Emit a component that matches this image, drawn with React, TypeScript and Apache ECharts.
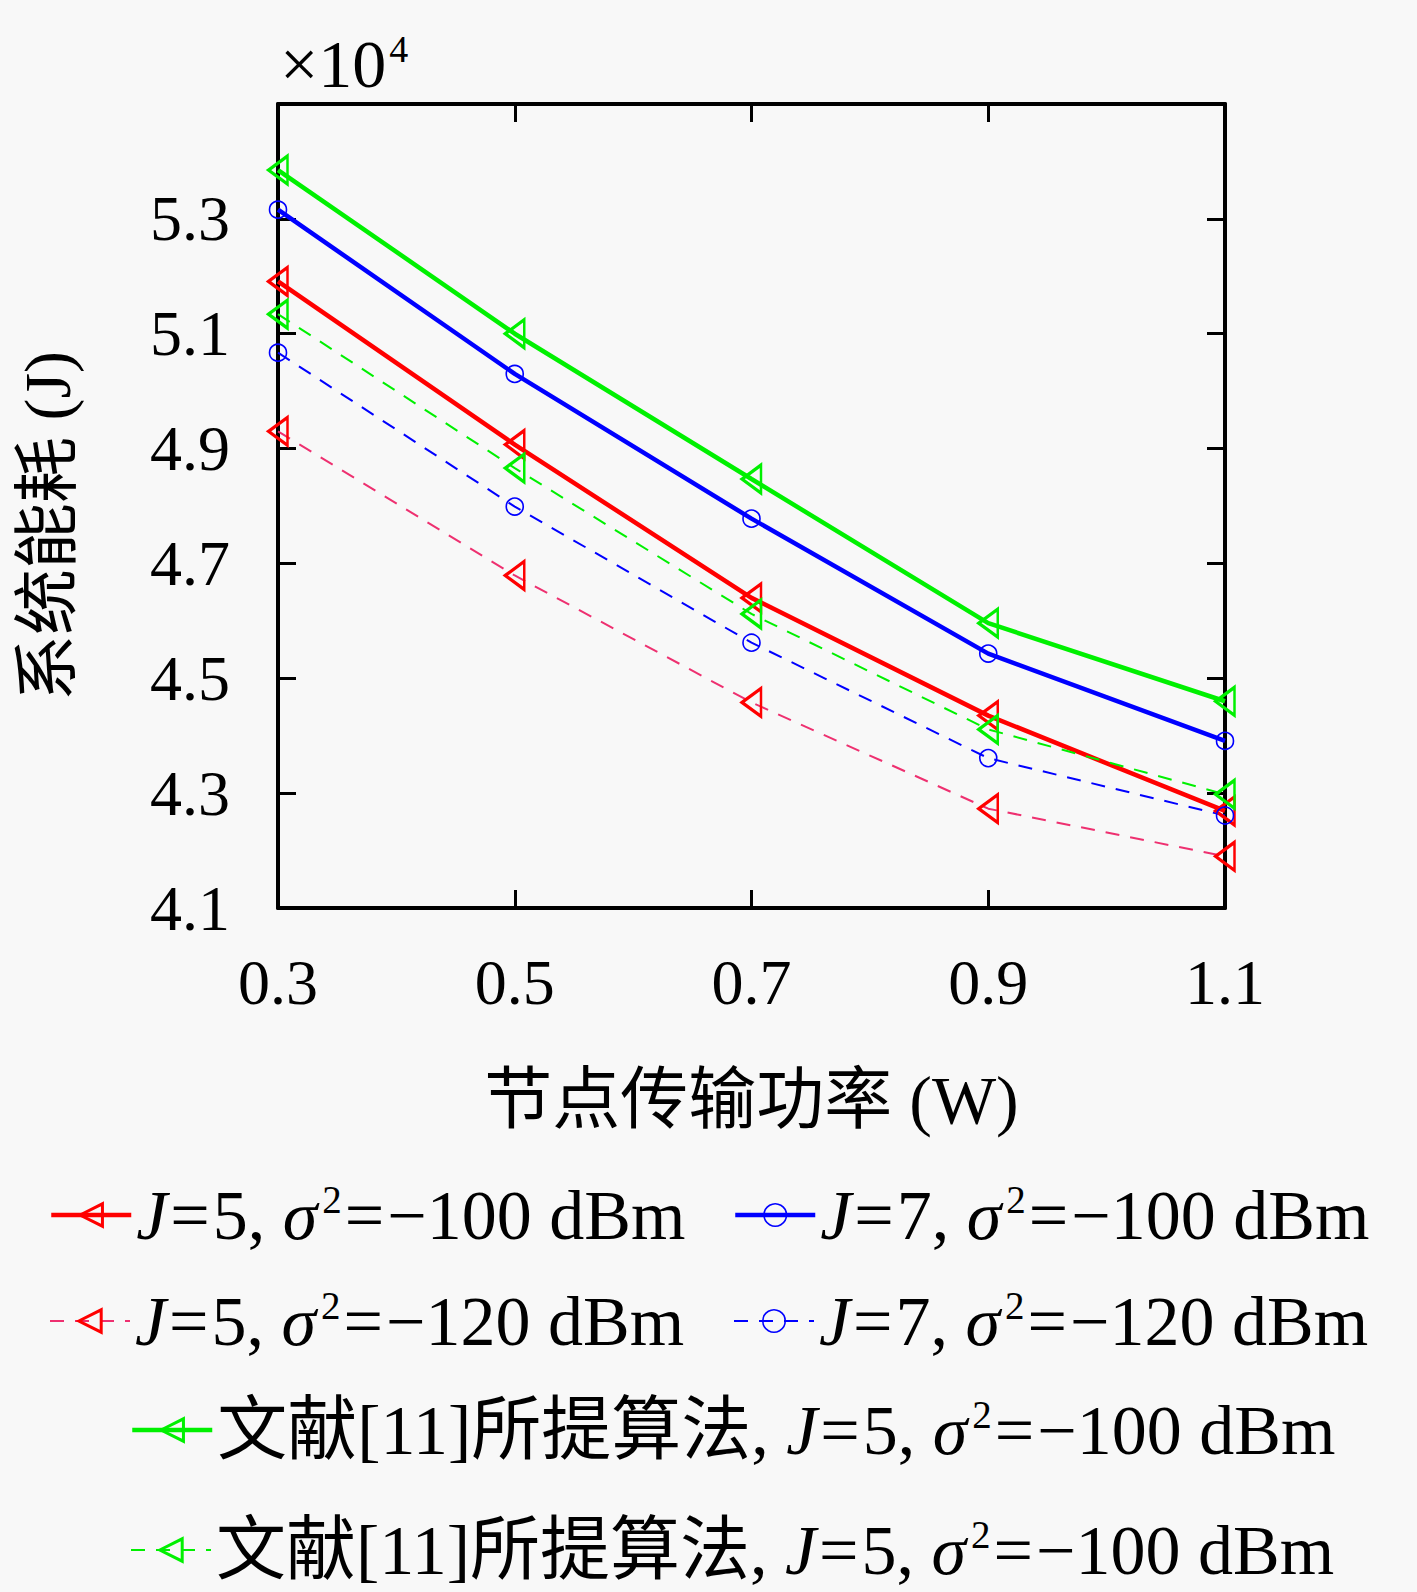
import { useEffect, useRef } from "react";
import * as echarts from "echarts";

// x 轴：节点传输功率 (W)
const powers = ["0.3", "0.5", "0.7", "0.9", "1.1"];

// 系统能耗 (J)
const j5n100 = [51910, 49070, 46400, 44350, 42690];
const j7n100 = [53160, 50300, 47780, 45430, 43910];
const j5n120 = [49300, 46790, 44580, 42730, 41900];
const j7n120 = [50670, 47990, 45620, 43610, 42610];
const ref11Solid = [53850, 51000, 48470, 45960, 44600];
const ref11Dashed = [51340, 48660, 46120, 44110, 42980];

const legendLabels: Record<string, string> = {
  j5n100: "{i|J}{e|=}5, {i|σ}{s|2}{e|=}−100 dBm",
  j7n100: "{i|J}{e|=}7, {i|σ}{s|2}{e|=}−100 dBm",
  j5n120: "{i|J}{e|=}5, {i|σ}{s|2}{e|=}−120 dBm",
  j7n120: "{i|J}{e|=}7, {i|σ}{s|2}{e|=}−120 dBm",
  ref11Solid: "文献[11]所提算法, {i|J}{e|=}5, {i|σ}{s|2}{e|=}−100 dBm",
  ref11Dashed: "文献[11]所提算法, {i|J}{e|=}5, {i|σ}{s|2}{e|=}−100 dBm",
};

const FONT = "'Liberation Serif', 'Noto Sans CJK SC', serif";
const RED = "#ff0000";
const BLUE = "#0000ff";
const GREEN = "#00f000";

function makeSeries(
  name: string,
  data: number[],
  color: string,
  lineColor: string,
  dashed: boolean,
  marker: "tri" | "circle",
) {
  return {
    name,
    type: "line",
    data,
    symbol: marker === "tri" ? "triangle" : "circle",
    symbolSize: marker === "tri" ? [28, 19] : 17,
    symbolRotate: marker === "tri" ? 90 : 0,
    showAllSymbol: true,
    itemStyle: {
      color: "none",
      borderColor: color,
      borderWidth: marker === "tri" ? 3 : 1.6,
    },
    lineStyle: {
      color: lineColor,
      width: dashed ? 2 : 4.5,
      type: dashed ? [14, 11] : "solid",
    },
  };
}

function legendAt(name: string, left: number, top: number) {
  return {
    data: [name],
    left,
    top,
    padding: 0,
    itemWidth: 80,
    itemHeight: 28,
    lineStyle: { width: "inherit" },
    itemStyle: { borderWidth: "inherit" },
    formatter: (n: string) => legendLabels[n],
    textStyle: {
      fontFamily: FONT,
      fontSize: 70,
      color: "#000",
      rich: {
        i: { fontFamily: FONT, fontSize: 70, fontStyle: "italic", color: "#000" },
        e: { fontFamily: FONT, fontSize: 70, color: "#000", padding: [0, 3, 0, 3] },
        s: {
          fontFamily: FONT,
          fontSize: 39,
          verticalAlign: "top",
          color: "#000",
          padding: [0, 0, 0, 5],
        },
      },
    },
  };
}

export default function App() {
  const chartRef = useRef<HTMLDivElement | null>(null);

  useEffect(() => {
    if (!chartRef.current) {
      return;
    }
    document.body.style.margin = "0";

    const chart = echarts.init(chartRef.current, undefined, { renderer: "svg" });

    const axisLine = { show: true, lineStyle: { color: "#000", width: 4 } };
    const axisTick = { show: true, inside: true, length: 18, lineStyle: { color: "#000", width: 3 } };

    chart.setOption({
      animation: false,
      backgroundColor: "#f8f8f8",
      title: {
        text: "{a|×10}{b|4}",
        left: 280,
        top: 30,
        padding: 0,
        textStyle: {
          rich: {
            a: { fontFamily: FONT, fontSize: 68, fontWeight: "normal", color: "#000" },
            b: {
              fontFamily: FONT,
              fontSize: 38,
              fontWeight: "normal",
              color: "#000",
              verticalAlign: "top",
              padding: [0, 0, 0, 3],
            },
          },
        },
      },
      grid: { left: 278, right: 192, top: 104, bottom: 684 },
      legend: [
        legendAt("j5n100", 49, 1180),
        legendAt("j7n100", 733, 1180),
        legendAt("j5n120", 49, 1286),
        legendAt("j7n120", 733, 1286),
        legendAt("ref11Solid", 130, 1395),
        legendAt("ref11Dashed", 130, 1515),
      ],
      xAxis: [
        {
          type: "category",
          data: powers,
          boundaryGap: false,
          position: "bottom",
          axisLine,
          axisTick,
          splitLine: { show: false },
          axisLabel: { margin: 42, fontFamily: FONT, fontSize: 64, color: "#000" },
          name: "节点传输功率 (W)",
          nameLocation: "middle",
          nameGap: 158,
          nameTextStyle: { fontFamily: FONT, fontSize: 68, color: "#000" },
        },
        {
          type: "category",
          data: powers,
          boundaryGap: false,
          position: "top",
          axisLine,
          axisTick,
          splitLine: { show: false },
          axisLabel: { show: false },
        },
      ],
      yAxis: [
        {
          type: "value",
          min: 41000,
          max: 55000,
          interval: 2000,
          position: "left",
          axisLine,
          axisTick,
          splitLine: { show: false },
          axisLabel: {
            margin: 48,
            showMaxLabel: false,
            fontFamily: FONT,
            fontSize: 64,
            color: "#000",
            formatter: (v: number) => (v / 10000).toFixed(1),
          },
          name: "系统能耗 (J)",
          nameLocation: "middle",
          nameGap: 198,
          nameRotate: 90,
          nameTextStyle: {
            fontFamily: FONT,
            fontSize: 66,
            color: "#000",
            padding: [0, 40, 0, 0],
          },
        },
        {
          type: "value",
          min: 41000,
          max: 55000,
          interval: 2000,
          position: "right",
          axisLine,
          axisTick,
          splitLine: { show: false },
          axisLabel: { show: false },
        },
      ],
      series: [
        makeSeries("j5n100", j5n100, RED, RED, false, "tri"),
        makeSeries("j7n100", j7n100, BLUE, BLUE, false, "circle"),
        makeSeries("j5n120", j5n120, RED, "#ee3070", true, "tri"),
        makeSeries("j7n120", j7n120, BLUE, BLUE, true, "circle"),
        makeSeries("ref11Solid", ref11Solid, GREEN, GREEN, false, "tri"),
        makeSeries("ref11Dashed", ref11Dashed, GREEN, GREEN, true, "tri"),
      ],
    });

    return () => {
      chart.dispose();
    };
  }, []);

  return <div ref={chartRef} style={{ width: 1417, height: 1592 }} />;
}
